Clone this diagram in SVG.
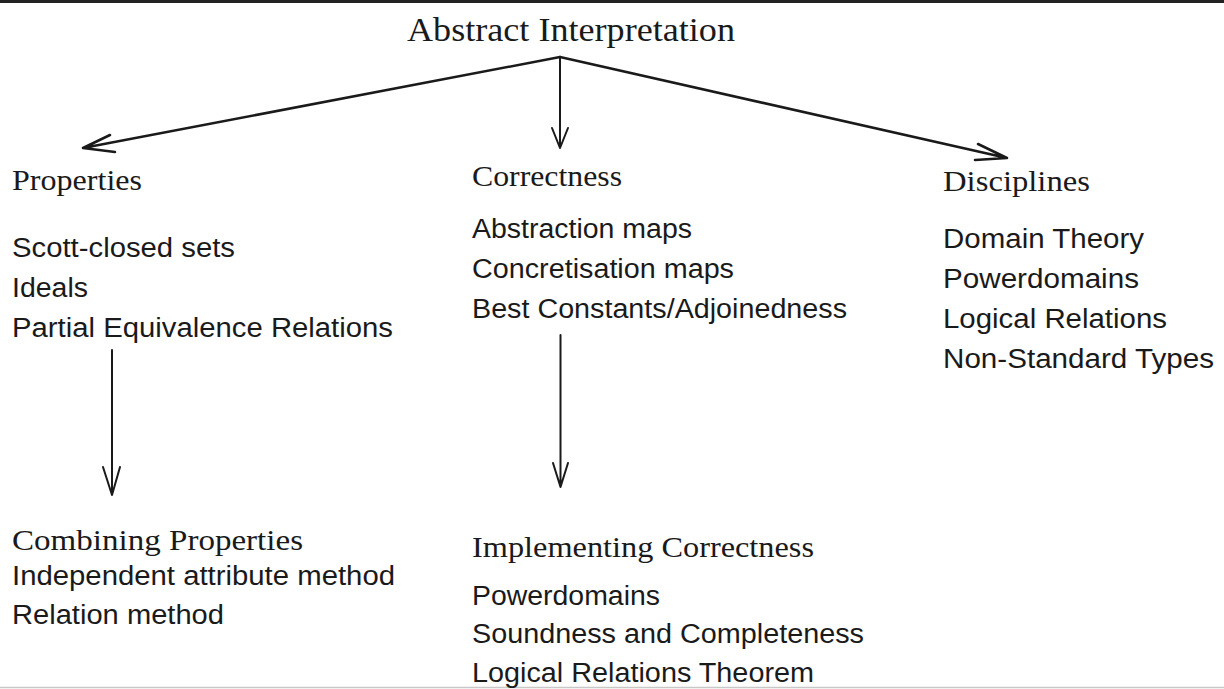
<svg xmlns="http://www.w3.org/2000/svg" width="1224" height="689" viewBox="0 0 1224 689">
<style>
.hd{font-family:"Liberation Serif","Times New Roman",serif;font-size:30px;fill:#1a1a1a}
.tt{font-family:"Liberation Serif","Times New Roman",serif;font-size:34px;fill:#1a1a1a}
.it{font-family:"Liberation Sans",Arial,sans-serif;font-size:27px;fill:#1a1a1a}
.ln{stroke:#1a1a1a;stroke-width:2.5;fill:none;stroke-linecap:round;stroke-linejoin:round}
.vl{stroke:#1a1a1a;stroke-width:2;fill:none;stroke-linecap:round;stroke-linejoin:round}
</style>
<rect x="0" y="0" width="1224" height="689" fill="#ffffff"/>
<rect x="0" y="0" width="1224" height="3" fill="#222222"/>
<line x1="0" y1="687.5" x2="1224" y2="687.5" stroke="#c8c8c8" stroke-width="1.5"/>

<g id="abstract-interpretation">
<text class="tt" x="407" y="41" textLength="328" lengthAdjust="spacingAndGlyphs">Abstract Interpretation</text>
</g>

<g id="properties">
<text class="hd" x="12" y="190" textLength="130" lengthAdjust="spacingAndGlyphs">Properties</text>
<text class="it" x="12" y="257" textLength="223" lengthAdjust="spacingAndGlyphs">Scott-closed sets</text>
<text class="it" x="12" y="297" textLength="76" lengthAdjust="spacingAndGlyphs">Ideals</text>
<text class="it" x="12" y="337" textLength="381" lengthAdjust="spacingAndGlyphs">Partial Equivalence Relations</text>
</g>

<g id="correctness">
<text class="hd" x="472" y="186" textLength="150" lengthAdjust="spacingAndGlyphs">Correctness</text>
<text class="it" x="472" y="238" textLength="220" lengthAdjust="spacingAndGlyphs">Abstraction maps</text>
<text class="it" x="472" y="278" textLength="262" lengthAdjust="spacingAndGlyphs">Concretisation maps</text>
<text class="it" x="472" y="318" textLength="375" lengthAdjust="spacingAndGlyphs">Best Constants/Adjoinedness</text>
</g>

<g id="disciplines">
<text class="hd" x="943" y="191" textLength="147" lengthAdjust="spacingAndGlyphs">Disciplines</text>
<text class="it" x="943" y="248" textLength="201" lengthAdjust="spacingAndGlyphs">Domain Theory</text>
<text class="it" x="943" y="288" textLength="196" lengthAdjust="spacingAndGlyphs">Powerdomains</text>
<text class="it" x="943" y="328" textLength="224" lengthAdjust="spacingAndGlyphs">Logical Relations</text>
<text class="it" x="943" y="368" textLength="271" lengthAdjust="spacingAndGlyphs">Non-Standard Types</text>
</g>

<g id="combining-properties">
<text class="hd" x="12" y="550" textLength="291" lengthAdjust="spacingAndGlyphs">Combining Properties</text>
<text class="it" x="12" y="585" textLength="383" lengthAdjust="spacingAndGlyphs">Independent attribute method</text>
<text class="it" x="12" y="624" textLength="212" lengthAdjust="spacingAndGlyphs">Relation method</text>
</g>

<g id="implementing-correctness">
<text class="hd" x="472" y="557" textLength="342" lengthAdjust="spacingAndGlyphs">Implementing Correctness</text>
<text class="it" x="472" y="605" textLength="188" lengthAdjust="spacingAndGlyphs">Powerdomains</text>
<text class="it" x="472" y="643" textLength="392" lengthAdjust="spacingAndGlyphs">Soundness and Completeness</text>
<text class="it" x="472" y="682" textLength="342" lengthAdjust="spacingAndGlyphs">Logical Relations Theorem</text>
</g>

<g id="connectors">
<path class="ln" d="M560 57 L83 148 M110 135 L83 148 L115 152"/>
<path class="vl" d="M560 57 L560 148 M552 128 L560 148 L568 128"/>
<path class="ln" d="M560 57 L1007 158 M978 144 L1007 158 L975 160"/>
<path class="vl" d="M112 350 L112 495 M103 467 L112 495 L120 467"/>
<path class="vl" d="M560.5 335 L560.5 487 M553 463 L560.5 487 L568 463"/>
</g>
</svg>
